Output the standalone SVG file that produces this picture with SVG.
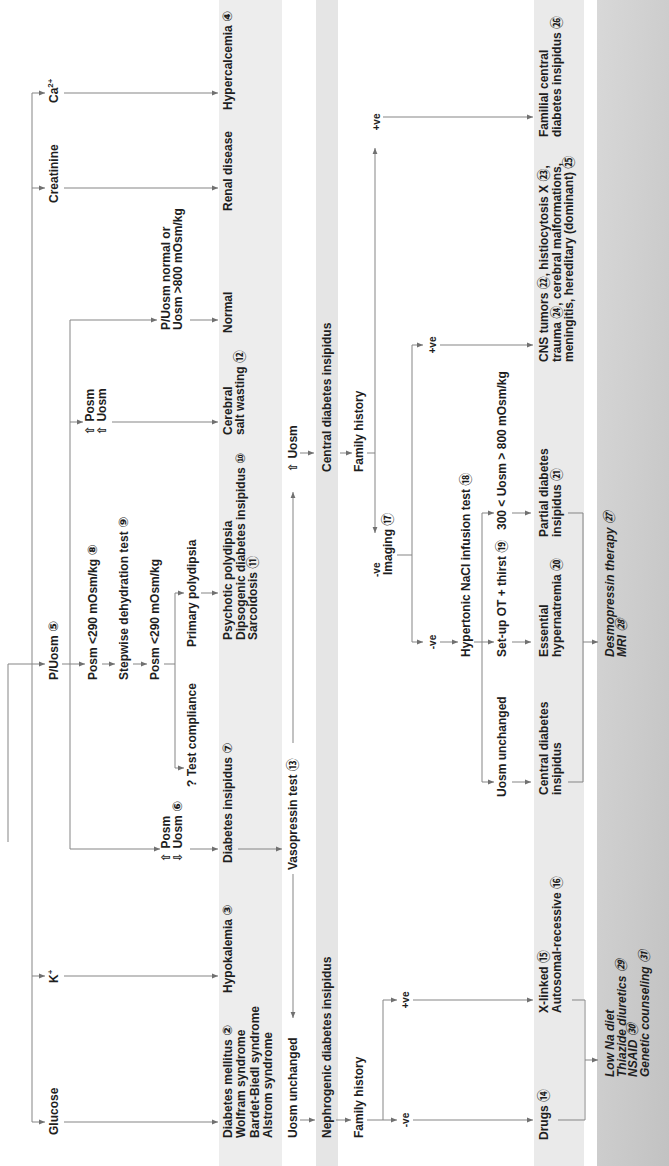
<svg xmlns="http://www.w3.org/2000/svg" width="669" height="1166" viewBox="0 0 669 1166">
<defs>
<style>
.t{font-family:"Liberation Sans","DejaVu Sans","Noto Sans CJK SC",sans-serif;font-size:12px;font-weight:bold;fill:#1e1e1e}
.s{font-size:10px}
.i{font-style:italic}
.m{text-anchor:middle}
.n{font-size:13px}
.c{fill:none;stroke:#858585;stroke-width:1}
.a{marker-end:url(#ah)}
</style>
<marker id="ah" viewBox="0 0 10 10" refX="10" refY="5" markerWidth="6" markerHeight="6" markerUnits="userSpaceOnUse" orient="auto"><path d="M0,1 L10,5 L0,9 z" fill="#707070"/></marker>
<linearGradient id="g4" x1="1" y1="0" x2="0" y2="1"><stop offset="0" stop-color="#d8d8d8"/><stop offset="1" stop-color="#c2c2c2"/></linearGradient>
</defs>
<rect width="669" height="1166" fill="#fff"/>
<g transform="matrix(0,-1,1,0,0,1166)">
<g id="bands">
<rect x="0" y="219" width="1166" height="63" fill="#ededed"/>
<rect x="0" y="316" width="1166" height="22" fill="#e5e5e5"/>
<rect x="0" y="534" width="1166" height="50" fill="#eaeaea"/>
<rect x="0" y="597" width="1166" height="72" fill="url(#g4)"/>
</g>
<g id="connectors" class="c">
<path d="M44,32 H1073"/>
<path class="a" d="M44,32 V45"/>
<path class="a" d="M190,32 V45"/>
<path class="a" d="M978,32 V45"/>
<path class="a" d="M1073,32 V45"/>
<path class="a" d="M324,8 H502 V45"/>
<path class="a" d="M44,64 V218"/>
<path class="a" d="M190,64 V218"/>
<path class="a" d="M978,64 V218"/>
<path class="a" d="M1073,64 V218"/>
<path class="a" d="M502,62 V85"/>
<path d="M317,70 H846"/>
<path class="a" d="M317,70 V160"/>
<path class="a" d="M744,70 V83"/>
<path class="a" d="M846,70 V157"/>
<path class="a" d="M502,102 V115"/>
<path class="a" d="M502,133 V147"/>
<path d="M502,164 V175"/>
<path d="M398,175 H573"/>
<path class="a" d="M398,175 V184"/>
<path class="a" d="M573,175 V184"/>
<path class="a" d="M573,201 V218"/>
<path class="a" d="M317,190 V218"/>
<path class="a" d="M744,112 V218"/>
<path class="a" d="M846,190 V218"/>
<path class="a" d="M317,238 V282"/>
<path class="a" d="M292,293 H148"/>
<path class="a" d="M423,293 H674"/>
<path class="a" d="M713,300 V314"/>
<path class="a" d="M713,340 V352"/>
<path d="M713,367 V375"/>
<path class="a" d="M713,375 H633"/>
<path class="a" d="M713,375 H1018"/>
<path class="a" d="M1049,383 V533"/>
<path d="M611,397 V412"/>
<path d="M524,412 H821"/>
<path class="a" d="M524,412 V423"/>
<path class="a" d="M821,412 V423"/>
<path class="a" d="M821,440 V533"/>
<path class="a" d="M524,440 V458"/>
<path d="M524,474 V482"/>
<path d="M384,482 H653"/>
<path class="a" d="M384,482 V494"/>
<path class="a" d="M524,482 V494"/>
<path class="a" d="M653,482 V494"/>
<path class="a" d="M384,512 V531"/>
<path class="a" d="M524,512 V531"/>
<path class="a" d="M653,512 V531"/>
<path d="M653,568 V583 H384 V568"/>
<path class="a" d="M524,583 V598"/>
<path class="a" d="M46,300 V315"/>
<path class="a" d="M46,336 V351"/>
<path class="a" d="M46,367 V397"/>
<path class="a" d="M46,383 H166 V397"/>
<path class="a" d="M166,413 V533"/>
<path class="a" d="M46,413 V533"/>
<path d="M166,572 V585 H46 V558"/>
<path class="a" d="M106,585 V598"/>
</g>
<g id="glucose"><text class="t" x="31" y="58">Glucose</text></g>
<g id="potassium"><text class="t" x="183" y="58">K<tspan font-size="8" dy="-5">+</tspan></text></g>
<g id="p-uosm"><text class="t" x="486" y="58">P/Uosm <tspan class="n">⑤</tspan></text></g>
<g id="creatinine"><text class="t" x="963" y="58">Creatinine</text></g>
<g id="calcium"><text class="t" x="1063" y="58">Ca<tspan font-size="8" dy="-5">2+</tspan></text></g>
<g id="posm-up-uosm-down"><text class="t" x="304" y="170">⇧ Posm<tspan x="304" dy="11.5">⇩ Uosm </tspan><tspan class="n">⑥</tspan></text></g>
<g id="posm-up-uosm-up"><text class="t" x="731" y="94">⇧ Posm<tspan x="731" dy="11.5">⇧ Uosm</tspan></text></g>
<g id="puosm-normal"><text class="t" x="836" y="170">P/Uosm normal or<tspan x="836" dy="11.5">Uosm &gt;800 mOsm/kg</tspan></text></g>
<g id="posm-290-a"><text class="t" x="486" y="97">Posm &lt;290 mOsm/kg <tspan class="n">⑧</tspan></text></g>
<g id="dehydration-test"><text class="t" x="486" y="128">Stepwise dehydration test <tspan class="n">⑨</tspan></text></g>
<g id="posm-290-b"><text class="t" x="486" y="159">Posm &lt;290 mOsm/kg</text></g>
<g id="test-compliance"><text class="t" x="379" y="196">? Test compliance</text></g>
<g id="primary-polydipsia"><text class="t" x="519" y="196">Primary polydipsia</text></g>
<g id="diabetes-mellitus"><text class="t" x="28" y="232">Diabetes mellitus <tspan class="n">②</tspan><tspan x="28" dy="13.3">Wolfram syndrome</tspan><tspan x="28" dy="13.3">Bardet-Biedl syndrome</tspan><tspan x="28" dy="13.3">Alstrom syndrome</tspan></text></g>
<g id="hypokalemia"><text class="t" x="173" y="232">Hypokalemia <tspan class="n">③</tspan></text></g>
<g id="diabetes-insipidus"><text class="t" x="303" y="232">Diabetes insipidus <tspan class="n">⑦</tspan></text></g>
<g id="psychotic"><text class="t" x="526" y="232">Psychotic polydipsia<tspan x="526" dy="12.5">Dipsogenic diabetes insipidus </tspan><tspan class="n">⑩</tspan><tspan x="526" dy="12.5">Sarcoidosis </tspan><tspan class="n">⑪</tspan></text></g>
<g id="cerebral-salt-wasting"><text class="t" x="731" y="232">Cerebral<tspan x="731" dy="12">salt wasting </tspan><tspan class="n">⑫</tspan></text></g>
<g id="normal"><text class="t" x="833" y="232">Normal</text></g>
<g id="renal-disease"><text class="t" x="955" y="232">Renal disease</text></g>
<g id="hypercalcemia"><text class="t" x="1056" y="232">Hypercalcemia <tspan class="n">④</tspan></text></g>
<g id="uosm-unchanged-1"><text class="t" x="28" y="297">Uosm unchanged</text></g>
<g id="vasopressin-test"><text class="t" x="296" y="297">Vasopressin test <tspan class="n">⑬</tspan></text></g>
<g id="uosm-up"><text class="t" x="694" y="297">⇧ Uosm</text></g>
<g id="nephrogenic-di"><text class="t" x="28" y="331">Nephrogenic diabetes insipidus</text></g>
<g id="central-di"><text class="t" x="694" y="331">Central diabetes insipidus</text></g>
<g id="family-history-1"><text class="t" x="28" y="363">Family history</text></g>
<g id="family-history-2"><text class="t" x="694" y="363">Family history</text></g>
<g id="neg-1"><text class="t s m" x="46" y="409">-ve</text></g>
<g id="pos-1"><text class="t s m" x="166" y="409">+ve</text></g>
<g id="neg-2"><text class="t s" x="589" y="380">-ve</text></g>
<g id="imaging"><text class="t" x="591" y="392">Imaging <tspan class="n">⑰</tspan></text></g>
<g id="pos-2"><text class="t s m" x="1044" y="380">+ve</text></g>
<g id="neg-3"><text class="t s m" x="524" y="436">-ve</text></g>
<g id="pos-3"><text class="t s m" x="821" y="436">+ve</text></g>
<g id="hypertonic"><text class="t" x="509" y="470">Hypertonic NaCl infusion test <tspan class="n">⑱</tspan></text></g>
<g id="uosm-unchanged-2"><text class="t" x="369" y="506">Uosm unchanged</text></g>
<g id="setup-ot"><text class="t" x="509" y="506">Set-up OT + thirst <tspan class="n">⑲</tspan></text></g>
<g id="uosm-300-800"><text class="t" x="636" y="506">300 &lt; Uosm &gt; 800 mOsm/kg</text></g>
<g id="drugs"><text class="t" x="26" y="548">Drugs <tspan class="n">⑭</tspan></text></g>
<g id="x-linked"><text class="t" x="153" y="548">X-linked <tspan class="n">⑮</tspan><tspan x="153" dy="12.5">Autosomal-recessive </tspan><tspan class="n">⑯</tspan></text></g>
<g id="central-di-2"><text class="t" x="371" y="548">Central diabetes<tspan x="371" dy="12.5">insipidus</tspan></text></g>
<g id="essential-hypernatremia"><text class="t" x="509" y="548">Essential<tspan x="509" dy="12.5">hypernatremia </tspan><tspan class="n">⑳</tspan></text></g>
<g id="partial-di"><text class="t" x="629" y="548">Partial diabetes<tspan x="629" dy="12.5">insipidus </tspan><tspan class="n">㉑</tspan></text></g>
<g id="cns"><text class="t" x="804" y="548">CNS tumors <tspan class="n">㉒</tspan>, histiocytosis X <tspan class="n">㉓</tspan>,<tspan x="804" dy="12.5">trauma </tspan><tspan class="n">㉔</tspan>, cerebral malformations,<tspan x="804" dy="12.5">meningitis, hereditary (dominant) </tspan><tspan class="n">㉕</tspan></text></g>
<g id="familial-cdi"><text class="t" x="1029" y="548">Familial central<tspan x="1029" dy="12.5">diabetes insipidus </tspan><tspan class="n">㉖</tspan></text></g>
<g id="treatment-nephrogenic"><text class="t i" x="89" y="614">Low Na diet<tspan x="89" dy="11.5">Thiazide diuretics </tspan><tspan class="n">㉙</tspan><tspan x="89" dy="11.5">NSAID </tspan><tspan class="n">㉚</tspan><tspan x="89" dy="11.5">Genetic counseling </tspan><tspan class="n">㉛</tspan></text></g>
<g id="treatment-central"><text class="t i" x="509" y="614">Desmopressin therapy <tspan class="n">㉗</tspan><tspan x="509" dy="12">MRI </tspan><tspan class="n">㉘</tspan></text></g>
</g>
</svg>
